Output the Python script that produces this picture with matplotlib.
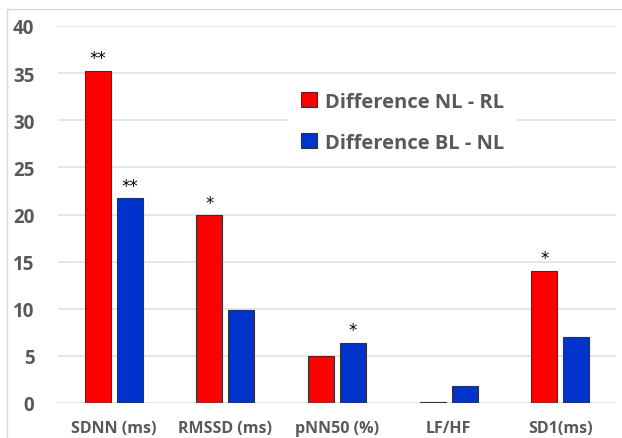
import matplotlib.pyplot as plt
import numpy as np
from matplotlib.patches import Rectangle

categories = ['SDNN (ms)', 'RMSSD (ms)', 'pNN50 (%)', 'LF/HF', 'SD1(ms)']
diff_nl_rl = [35.2, 19.9, 5.0, 0.1, 14.0]
diff_bl_nl = [21.7, 9.9, 6.4, 1.8, 7.0]
stars_nl_rl = ['**', '*', '', '', '*']
stars_bl_nl = ['**', '', '*', '', '']
labels = ['Difference NL - RL', 'Difference BL - NL']

plt.rcParams['font.family'] = ['Open Sans', 'DejaVu Sans']
plt.rcParams['font.weight'] = 'bold'

fig = plt.figure(figsize=(6.22, 4.39), dpi=100)
ax = fig.add_axes([58/622, 1-404/439, (616-58)/622, (404-27)/439])

# outer frame of the chart (runs off the right/bottom edge)
fig.patches.append(Rectangle((7/622, -0.05), 1.0, 1 - 10/439 + 0.05, transform=fig.transFigure,
                             fill=False, edgecolor='#d9d9d9', lw=1))

x = np.arange(len(categories))
w = 0.233
gap = 0.027
ax.bar(x - w/2 - gap, diff_nl_rl, w, color='#ff0000', edgecolor='#333333', lw=0.8,
       label=labels[0], zorder=3)
ax.bar(x + w/2 + gap, diff_bl_nl, w, color='#0033cc', edgecolor='#333333', lw=0.8,
       label=labels[1], zorder=3)

for xi, v, s in zip(x - w/2 - gap, diff_nl_rl, stars_nl_rl):
    if s:
        ax.text(xi, v + 0.4, s, ha='center', va='bottom', fontsize=12, color='black',
                fontweight='normal', family='DejaVu Sans')
for xi, v, s in zip(x + w/2 + gap, diff_bl_nl, stars_bl_nl):
    if s:
        ax.text(xi, v + 0.4, s, ha='center', va='bottom', fontsize=12, color='black',
                fontweight='normal', family='DejaVu Sans')

ax.set_xlim(-0.5, len(categories) - 0.5)
ax.set_ylim(0, 40)
ax.set_yticks(range(0, 41, 5))
ax.set_xticks(x)
ax.set_xticklabels(categories)
ax.grid(axis='y', color='#e0e0e0', lw=1.2, zorder=0)
for sp in ax.spines.values():
    sp.set_visible(False)
ax.tick_params(length=0, labelcolor='#595959', labelsize=13.5)
ax.tick_params(axis='x', pad=12, labelsize=11.5)
ax.tick_params(axis='y', pad=17)

leg = ax.legend(loc='upper left', bbox_to_anchor=(0.395, 0.885), frameon=True, fancybox=False,
                edgecolor='white', framealpha=1, handlelength=0.8, handleheight=0.8,
                handletextpad=0.4, labelspacing=1.05, borderpad=0.6,
                prop={'size': 14.5, 'weight': 'bold'})
for t in leg.get_texts():
    t.set_color('#595959')

fig.savefig('out.png', dpi=100)
